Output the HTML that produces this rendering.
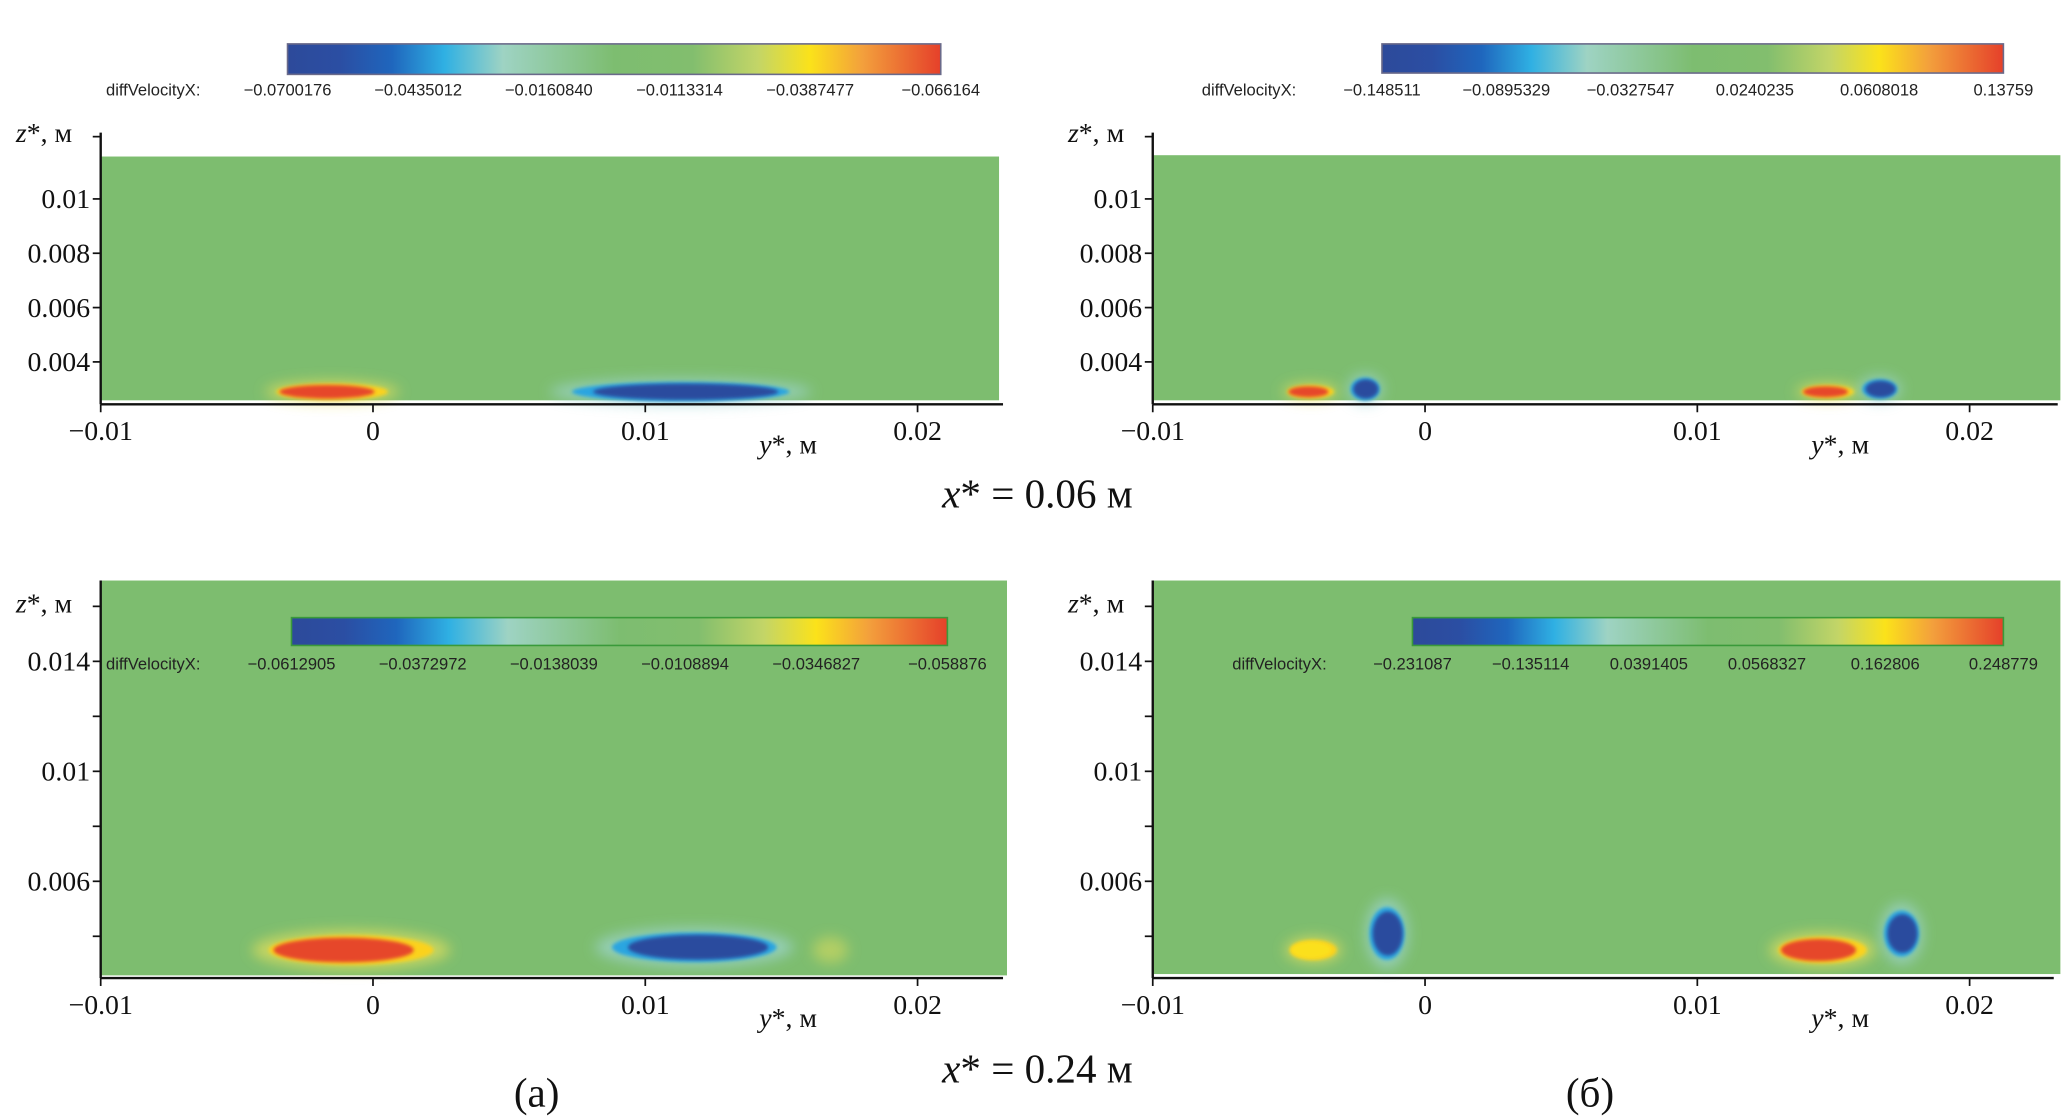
<!DOCTYPE html>
<html><head><meta charset="utf-8"><style>
html,body{margin:0;padding:0;background:#fff;}
svg{display:block;}
.ax{font-family:"Liberation Serif",serif;font-size:21px;fill:#111;}
.cb{font-family:"Liberation Sans",sans-serif;font-size:12.5px;fill:#222;}
.tt{font-family:"Liberation Serif",serif;font-size:31px;fill:#111;}
</style></head><body>
<svg id="fig" width="2067" height="1116" viewBox="0 0 1560 842" xmlns="http://www.w3.org/2000/svg">
<defs>
<linearGradient id="cmap" x1="0" x2="1" y1="0" y2="0">
<stop offset="0" stop-color="#2d4a9a"/><stop offset="0.08" stop-color="#2b4ea3"/>
<stop offset="0.16" stop-color="#1f66bd"/><stop offset="0.24" stop-color="#2fb0e3"/>
<stop offset="0.33" stop-color="#9ed3c3"/><stop offset="0.5" stop-color="#7dbd70"/>
<stop offset="0.62" stop-color="#82be6e"/><stop offset="0.72" stop-color="#c3d567"/>
<stop offset="0.8" stop-color="#fbe21a"/><stop offset="0.88" stop-color="#f3a03c"/>
<stop offset="1" stop-color="#e5402a"/></linearGradient>
<filter id="blur1" x="-50%" y="-100%" width="200%" height="300%"><feGaussianBlur stdDeviation="5"/></filter>
<filter id="blur2" x="-50%" y="-100%" width="200%" height="300%"><feGaussianBlur stdDeviation="1.5"/></filter>
</defs>
<text class="tt" x="783" y="383" text-anchor="middle"><tspan font-style="italic">x</tspan>* = 0.06 м</text>
<text class="tt" x="783" y="817" text-anchor="middle"><tspan font-style="italic">x</tspan>* = 0.24 м</text>
<text class="tt" x="405" y="835" text-anchor="middle">(a)</text>
<text class="tt" x="1200" y="835" text-anchor="middle">(б)</text>
</svg>
<script>
// data
const xTicks = [-0.01, 0, 0.01, 0.02];
const xTickLabels = ["\u22120.01", "0", "0.01", "0.02"];
const zTicksTop = [0.01, 0.008, 0.006, 0.004];
const zTickLabelsTop = ["0.01", "0.008", "0.006", "0.004"];
const zTicksBottom = [0.016, 0.014, 0.012, 0.01, 0.008, 0.006, 0.004];
const zTickLabelsBottom = ["", "0.014", "", "0.01", "", "0.006", ""];
const cbLabelsTL = ["\u22120.0700176", "\u22120.0435012", "\u22120.0160840", "\u22120.0113314", "\u22120.0387477", "\u22120.066164"];
const cbLabelsTR = ["\u22120.148511", "\u22120.0895329", "\u22120.0327547", "0.0240235", "0.0608018", "0.13759"];
const cbLabelsBL = ["\u22120.0612905", "\u22120.0372972", "\u22120.0138039", "\u22120.0108894", "\u22120.0346827", "\u22120.058876"];
const cbLabelsBR = ["\u22120.231087", "\u22120.135114", "0.0391405", "0.0568327", "0.162806", "0.248779"];
// blobs: [y*, z*, half-width y, half-height z, value]
const blobsTL = [[-0.0015, 0.0029, 0.0019, 0.00025, 1], [0.0113, 0.0029, 0.0037, 0.0003, -1]];
const blobsTR = [[-0.0042, 0.0029, 0.0008, 0.0002, 1], [-0.0022, 0.003, 0.0005, 0.00035, -1], [0.0148, 0.0029, 0.0009, 0.0002, 1], [0.0167, 0.003, 0.0006, 0.0003, -1]];
const blobsBL = [[-0.0008, 0.0035, 0.0028, 0.00045, 1], [0.0118, 0.0036, 0.0028, 0.00045, -1], [0.0168, 0.0035, 0.0005, 0.0003, 0.3]];
const blobsBR = [[-0.0041, 0.0035, 0.0008, 0.0003, 0.5], [-0.0014, 0.0041, 0.0006, 0.0008, -1], [0.0146, 0.0035, 0.0015, 0.0004, 1], [0.0175, 0.0041, 0.0006, 0.0007, -1]];

const svg = document.getElementById('fig');
const NS = 'http://www.w3.org/2000/svg';
function mk(tag, attrs, parent) {
  const e = document.createElementNS(NS, tag);
  for (const k in attrs) e.setAttribute(k, attrs[k]);
  (parent || svg).appendChild(e);
  return e;
}
const panels = [
  {id:'tl', x0:76, xR:757, zRefVal:0.01, zRef:150, zs:20500, top:118, bot:302, axisY:305, axTop:100, rectR:754,
   cb:[217,33,493,23], cbLy:72, cbLx:80, cbLabels:cbLabelsTL, blobs:blobsTL, zt:zTicksTop, ztl:zTickLabelsTop, zLabY:107, yLab:[573,342], cbInside:false},
  {id:'tr', x0:870, xR:1553, zRefVal:0.01, zRef:150, zs:20500, top:117, bot:302, axisY:305, axTop:100, rectR:1555,
   cb:[1043,33,469,22], cbLy:72, cbLx:907, cbLabels:cbLabelsTR, blobs:blobsTR, zt:zTicksTop, ztl:zTickLabelsTop, zLabY:107, yLab:[1367,342], cbInside:false},
  {id:'bl', x0:76, xR:757, zRefVal:0.01, zRef:582, zs:20750, top:438, bot:736, axisY:738, axTop:438, rectR:760,
   cb:[220,466,495,21], cbLy:505, cbLx:80, cbLabels:cbLabelsBL, blobs:blobsBL, zt:zTicksBottom, ztl:zTickLabelsBottom, zLabY:462, yLab:[573,775], cbInside:true},
  {id:'br', x0:870, xR:1550, zRefVal:0.01, zRef:582, zs:20750, top:438, bot:735, axisY:738, axTop:438, rectR:1555,
   cb:[1066,466,446,21], cbLy:505, cbLx:930, cbLabels:cbLabelsBR, blobs:blobsBR, zt:zTicksBottom, ztl:zTickLabelsBottom, zLabY:462, yLab:[1367,775], cbInside:true}
];
panels.forEach(p => {
  const X = v => p.x0 + (v + 0.01) * 20550;
  const Z = v => p.zRef + (p.zRefVal - v) * p.zs;
  const g = mk('g', {});
  
  
  const field = mk('rect', {x:p.x0, y:p.top, width:p.rectR - p.x0, height:p.bot - p.top, fill:'#7dbd6f'}, g);
  
  
  p.blobs.forEach(b => {
    const cx = X(b[0]), cy = Z(b[1]), rx = b[2] * 20550, ry = b[3] * p.zs;
    const v = b[4];
    const halo = v > 0 ? '#e8e05a' : '#9fd6d4';
    const edge = v > 0 ? '#fbd21c' : '#2aa5e0';
    const core = v > 0 ? (v >= 1 ? '#e6472b' : (v >= 0.5 ? '#fbe01a' : '#b8d068')) : '#2b4c9e';
    const bg = mk('g', {}, g);
    
    
    mk('ellipse', {cx:cx, cy:cy, rx:rx * 1.3, ry:ry * 1.6, fill:halo, opacity: Math.abs(v) >= 0.5 ? 0.7 : 0.5, filter:'url(#blur1)'}, bg);
    if (Math.abs(v) >= 0.5) {
      mk('ellipse', {cx:cx, cy:cy, rx:rx * 1.08, ry:ry * 1.2, fill:edge, filter:'url(#blur2)'}, bg);
      mk('ellipse', {cx:cx - (v > 0 ? rx * 0.1 : -rx * 0.05), cy:cy, rx:rx * 0.92, ry:ry, fill:core, filter:'url(#blur2)'}, bg);
    }
  });
  const xa = mk('line', {x1:p.x0, x2:p.xR, y1:p.axisY, y2:p.axisY, stroke:'#111', 'stroke-width':1.8}, g);
  
  
  const ya = mk('line', {x1:p.x0, x2:p.x0, y1:p.axTop, y2:p.axisY, stroke:'#111', 'stroke-width':1.8}, g);
  
  
  xTicks.forEach((t, i) => {
    const x = X(t);
    mk('line', {x1:x, x2:x, y1:p.axisY, y2:p.axisY + 6, stroke:'#111', 'stroke-width':1.3}, g);
    const tx = mk('text', {class:'ax', x:x, y:p.axisY + 27, 'text-anchor':'middle'}, g);
    tx.textContent = xTickLabels[i];
    
    
  });
  p.zt.forEach((t, i) => {
    const y = Z(t);
    mk('line', {x1:p.x0 - 6, x2:p.x0, y1:y, y2:y, stroke:'#111', 'stroke-width':1.3}, g);
    if (p.ztl[i]) {
      const tx = mk('text', {class:'ax', x:p.x0 - 8, y:y + 7, 'text-anchor':'end'}, g);
      tx.textContent = p.ztl[i];
      
      
    }
  });
  if (p.cbInside === false) mk('line', {x1:p.x0 - 6, x2:p.x0, y1:p.axTop + 3, y2:p.axTop + 3, stroke:'#111', 'stroke-width':1.3}, g);
  const zl = mk('text', {class:'ax', x:p.x0 - 64, y:p.zLabY}, g);
  zl.innerHTML = '<tspan font-style="italic">z</tspan>*, м';
  
  
  const yl = mk('text', {class:'ax', x:p.yLab[0], y:p.yLab[1]}, g);
  yl.innerHTML = '<tspan font-style="italic">y</tspan>*, м';
  
  
  const c = p.cb;
  const cbr = mk('rect', {x:c[0], y:c[1], width:c[2], height:c[3], fill:'url(#cmap)', stroke: p.cbInside ? '#3a9a3a' : '#6a6a8a', 'stroke-width':1.2}, g);
  
  
  const cl = mk('text', {class:'cb', x:p.cbLx, y:p.cbLy}, g);
  cl.textContent = 'diffVelocityX:';
  
  
  p.cbLabels.forEach((s, i) => {
    const x = c[0] + c[2] * i / (p.cbLabels.length - 1);
    const t = mk('text', {class:'cb', x:x, y:p.cbLy, 'text-anchor':'middle'}, g);
    t.textContent = s;
    
    
  });
});
</script>
</body></html>
